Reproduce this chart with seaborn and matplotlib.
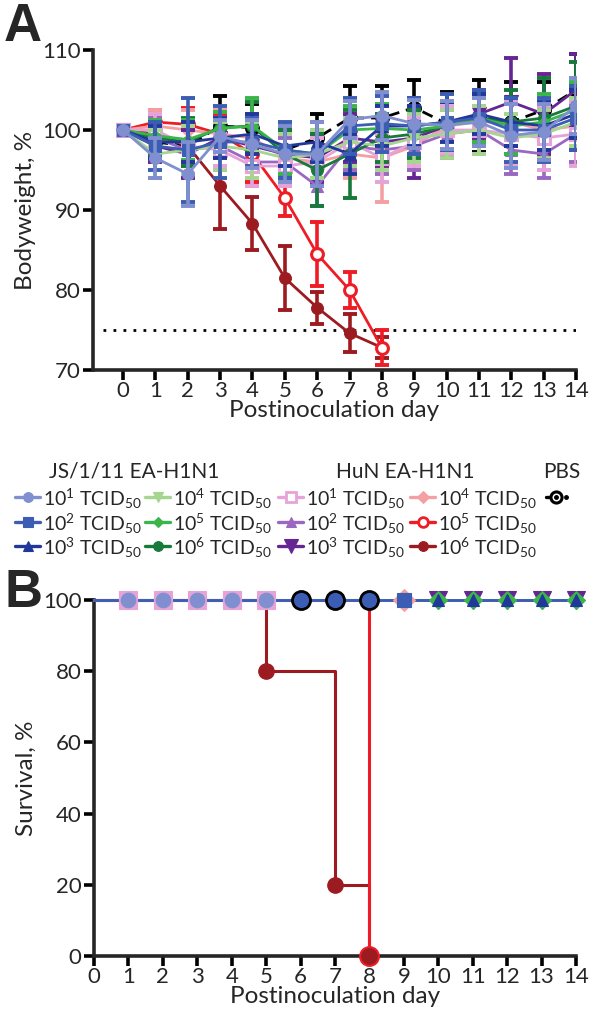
import matplotlib
matplotlib.use("Agg")
import matplotlib.pyplot as plt
import seaborn as sns
import numpy as np
import pandas as pd

sns.set_style("ticks")
plt.rcParams['font.family'] = ['Lato', 'DejaVu Sans']
plt.rcParams['mathtext.fontset'] = 'custom'
plt.rcParams['mathtext.rm'] = 'Lato'
plt.rcParams['mathtext.it'] = 'Lato:italic'
plt.rcParams['mathtext.bf'] = 'Lato:bold'
plt.rcParams['mathtext.default'] = 'regular'

# ---------------- data ----------------
days = list(range(15))
day_ticks = list(range(15))
weight_ticks = [70, 80, 90, 100, 110]
surv_ticks = [0, 20, 40, 60, 80, 100]
threshold = 75

series_names = ["JS 1e1", "JS 1e2", "JS 1e3", "JS 1e4", "JS 1e5", "JS 1e6",
                "HuN 1e1", "HuN 1e2", "HuN 1e3", "HuN 1e4", "HuN 1e5", "HuN 1e6", "PBS"]
legend_labels = [r"10$^{1}$ TCID$_{50}$", r"10$^{2}$ TCID$_{50}$", r"10$^{3}$ TCID$_{50}$",
                 r"10$^{4}$ TCID$_{50}$", r"10$^{5}$ TCID$_{50}$", r"10$^{6}$ TCID$_{50}$",
                 r"10$^{1}$ TCID$_{50}$", r"10$^{2}$ TCID$_{50}$", r"10$^{3}$ TCID$_{50}$",
                 r"10$^{4}$ TCID$_{50}$", r"10$^{5}$ TCID$_{50}$", r"10$^{6}$ TCID$_{50}$", ""]
group_headers = ["JS/1/11 EA-H1N1", "HuN EA-H1N1", "PBS"]

js1_mean = [100, 96.5, 94.5, 99.2, 98.2, 97.0, 97.0, 101.3, 101.8, 100.8, 100.6, 101.0, 99.3, 99.8, 103.0]
js1_sd   = [0, 2.5, 4.0, 2.0, 3.0, 3.5, 4.0, 2.3, 3.0, 3.0, 3.0, 3.0, 4.0, 3.5, 3.5]
js2_mean = [100, 98.0, 97.5, 98.5, 98.5, 97.5, 97.0, 100.5, 100.8, 100.5, 101.0, 101.5, 100.0, 100.0, 101.5]
js2_sd   = [0, 3.0, 6.5, 4.5, 3.0, 3.5, 4.0, 3.5, 3.5, 3.5, 3.5, 3.5, 4.0, 4.0, 4.0]
js3_mean = [100, 98.5, 98.5, 99.0, 99.5, 98.0, 98.5, 97.0, 100.5, 100.5, 101.0, 102.0, 101.0, 100.5, 102.0]
js3_sd   = [0, 2.0, 2.5, 2.5, 2.5, 2.5, 2.5, 2.5, 2.5, 2.5, 2.5, 2.5, 3.0, 3.0, 3.0]
js4_mean = [100, 97.0, 97.5, 98.0, 97.5, 96.5, 97.0, 98.5, 98.0, 99.0, 99.5, 100.0, 99.0, 99.5, 101.0]
js4_sd   = [0, 3.0, 3.0, 3.0, 3.5, 3.0, 3.0, 3.0, 3.0, 3.0, 3.0, 3.0, 3.0, 3.0, 3.0]
js5_mean = [100, 99.3, 98.8, 100.2, 100.5, 97.5, 97.0, 100.0, 100.2, 100.0, 100.5, 101.5, 100.5, 101.0, 102.5]
js5_sd   = [0, 2.0, 2.5, 2.0, 3.5, 3.0, 3.0, 3.0, 3.0, 3.0, 3.0, 3.0, 3.5, 3.5, 3.5]
js6_mean = [100, 99.0, 98.5, 100.3, 100.5, 97.0, 95.0, 97.0, 99.0, 99.5, 100.5, 101.5, 101.0, 101.5, 103.0]
js6_sd   = [0, 2.0, 3.0, 2.0, 3.0, 3.0, 4.5, 5.5, 3.0, 3.0, 3.0, 3.0, 4.0, 5.0, 5.5]
hun1_mean = [100, 100.0, 98.0, 97.5, 95.5, 95.5, 96.0, 98.5, 96.5, 98.5, 100.0, 100.0, 99.5, 99.0, 99.5]
hun1_sd   = [0, 2.0, 2.5, 2.0, 2.5, 2.5, 3.0, 3.0, 3.0, 3.0, 3.0, 3.0, 4.0, 4.0, 4.0]
hun2_mean = [100, 99.0, 97.5, 98.0, 96.0, 96.0, 93.0, 98.0, 97.5, 98.0, 99.5, 100.0, 97.5, 97.0, 99.5]
hun2_sd   = [0, 2.5, 3.0, 3.0, 3.0, 3.0, 2.5, 3.0, 3.0, 3.0, 3.0, 3.0, 3.0, 3.0, 3.5]
hun3_mean = [100, 98.0, 97.0, 99.0, 98.0, 97.0, 96.5, 99.0, 98.5, 99.0, 100.5, 102.0, 103.5, 102.0, 105.0]
hun3_sd   = [0, 2.0, 3.0, 2.0, 3.0, 3.0, 3.0, 3.0, 3.0, 5.0, 3.0, 3.0, 5.5, 5.0, 4.5]
hun4_mean = [100, 100.5, 100.0, 99.5, 99.0, 96.5, 96.0, 97.0, 96.5, 98.0, 100.5, 101.0, 101.0, 100.0, 100.5]
hun4_sd   = [0, 2.0, 2.5, 3.0, 3.0, 3.0, 3.0, 3.0, 5.5, 3.0, 3.0, 3.0, 3.0, 3.0, 3.0]
hun5_mean = [100, 101.0, 100.7, 99.5, 97.0, 91.5, 84.5, 80.0, 72.8]
hun5_sd   = [0, 1.5, 2.0, 2.5, 3.5, 2.3, 4.0, 2.2, 2.2]
hun6_mean = [100, 99.5, 98.0, 93.0, 88.3, 81.5, 77.8, 74.6, 72.8]
hun6_sd   = [0, 1.0, 2.0, 5.4, 3.3, 4.0, 2.0, 2.4, 1.3]
pbs_mean = [100, 98.5, 98.0, 100.5, 100.3, 97.5, 99.0, 101.5, 101.5, 102.8, 100.8, 101.8, 101.0, 102.5, 105.0]
pbs_sd   = [0, 2.0, 2.5, 3.7, 3.0, 3.0, 3.0, 4.0, 4.0, 3.5, 4.0, 4.5, 5.0, 3.5, 4.5]

means = [js1_mean, js2_mean, js3_mean, js4_mean, js5_mean, js6_mean,
         hun1_mean, hun2_mean, hun3_mean, hun4_mean, hun5_mean, hun6_mean, pbs_mean]
sds = [js1_sd, js2_sd, js3_sd, js4_sd, js5_sd, js6_sd,
       hun1_sd, hun2_sd, hun3_sd, hun4_sd, hun5_sd, hun6_sd, pbs_sd]

# survival (Kaplan-Meier steps)
surv_times = {
    "HuN 1e5": [0, 8],
    "HuN 1e6": [0, 5, 7, 8],
}
surv_vals = {
    "HuN 1e5": [100, 0],
    "HuN 1e6": [100, 80, 20, 0],
}
surv_full_times = [0, 14]
surv_full_vals = [100, 100]
# days where each group's symbol shows on the survival curve
surv_marker_days = {
    "HuN 1e1": [1, 2, 3, 4, 5],
    "JS 1e1": [1, 2, 3, 4, 5],
    "PBS": [6, 7, 8],
    "HuN 1e4": [9],
    "JS 1e2": [9],
    "HuN 1e3": [10, 11, 12, 13, 14],
    "JS 1e5": [10, 11, 12, 13, 14],
    "JS 1e3": [10, 11, 12, 13, 14],
}
surv_marker_vals = {
    "HuN 1e6": ([5, 7, 8], [80, 20, 0]),
    "HuN 1e5": ([8], [0]),
}

# ---------------- styles ----------------
colors = {"JS 1e1": "#7f8fcf", "JS 1e2": "#3b5db3", "JS 1e3": "#22379b",
          "JS 1e4": "#a5d58e", "JS 1e5": "#3bb54a", "JS 1e6": "#17793a",
          "HuN 1e1": "#e5a3d8", "HuN 1e2": "#9a68c0", "HuN 1e3": "#652693",
          "HuN 1e4": "#f4a0a2", "HuN 1e5": "#ee1c25", "HuN 1e6": "#9c1b20",
          "PBS": "#000000"}
markers = {"JS 1e1": "o", "JS 1e2": "s", "JS 1e3": "^", "JS 1e4": "v", "JS 1e5": "D",
           "JS 1e6": "o", "HuN 1e1": "s", "HuN 1e2": "^", "HuN 1e3": "v", "HuN 1e4": "D",
           "HuN 1e5": "o", "HuN 1e6": "o", "PBS": "o"}
msizes = {"JS 1e5": 6, "HuN 1e4": 7, "HuN 1e3": 9.5}
open_markers = {"HuN 1e1", "HuN 1e5", "PBS"}

W, H = 600, 1023
fig = plt.figure(figsize=(W / 100, H / 100), dpi=100)

def px_axes(x0, y0, x1, y1):
    return fig.add_axes([x0 / W, 1 - y1 / H, (x1 - x0) / W, (y1 - y0) / H])

axA = px_axes(93, 50, 576, 370)
axB = px_axes(94, 600, 576, 956)

# ---------------- panel A ----------------
draw_order = ["PBS", "HuN 1e6", "HuN 1e5", "HuN 1e4", "HuN 1e3", "HuN 1e2", "HuN 1e1",
              "JS 1e6", "JS 1e5", "JS 1e4", "JS 1e3", "JS 1e2", "JS 1e1"]
for z, name in enumerate(draw_order):
    i = series_names.index(name)
    m = means[i]
    s = sds[i]
    d = days[:len(m)]
    c = colors[name]
    axA.errorbar(d, m, yerr=s, fmt='none', ecolor=c, elinewidth=2.6,
                 capsize=5, capthick=2.8, zorder=2 + z * 0.1)
    df = pd.DataFrame({"day": d, "w": m})
    sns.lineplot(data=df, x="day", y="w", ax=axA, color=c,
                 linewidth=2.0, linestyle=(0, (4, 2.5)) if name == "PBS" else "-",
                 marker=markers[name], markersize=msizes.get(name, 8.5),
                 markerfacecolor="white" if name in open_markers else c,
                 markeredgecolor=c, markeredgewidth=2.2 if name in open_markers else 0.8,
                 zorder=2.05 + z * 0.1)
    if name == "PBS":
        axA.plot(d, m, linestyle="none", marker="o", markersize=2.5, color="black",
                 zorder=2.06 + z * 0.1)

axA.axhline(threshold, xmin=0.02, xmax=1.0, color="black", linestyle=(0, (1, 2.6)),
            linewidth=2.0, zorder=1)
axA.set_xlim(-0.93, 14)
axA.set_ylim(70, 110)
axA.set_xticks(day_ticks)
axA.set_yticks(weight_ticks)
axA.set_xlabel("Postinoculation day", fontsize=17.5, labelpad=-1)
axA.set_ylabel("Bodyweight, %", fontsize=17.5, labelpad=4)

# ---------------- panel B ----------------
for name in ["HuN 1e6", "HuN 1e5"]:
    df = pd.DataFrame({"t": surv_times[name], "s": surv_vals[name]})
    sns.lineplot(data=df, x="t", y="s", ax=axB, color=colors[name], linewidth=2.2,
                 drawstyle="steps-post", clip_on=False, zorder=2)
full_order = ["PBS", "HuN 1e4", "HuN 1e3", "HuN 1e2", "HuN 1e1",
              "JS 1e6", "JS 1e5", "JS 1e4", "JS 1e3", "JS 1e1", "JS 1e2"]
for name in full_order:
    df = pd.DataFrame({"t": surv_full_times, "s": surv_full_vals})
    sns.lineplot(data=df, x="t", y="s", ax=axB, color=colors[name] if name != "PBS" else "black",
                 linewidth=2.0, linestyle=(0, (4, 2.5)) if name == "PBS" else "-",
                 drawstyle="steps-post", clip_on=False, zorder=3)

for name, dd in surv_marker_days.items():
    c = colors[name]
    if name == "PBS":
        axB.plot(dd, [100] * len(dd), linestyle="none", marker="o", markersize=13,
                 markerfacecolor="#3b5db3", markeredgecolor="black", markeredgewidth=2.0,
                 clip_on=False, zorder=5)
        continue
    ms = {"HuN 1e1": 13, "JS 1e1": 10.5, "HuN 1e4": 11, "JS 1e2": 10,
          "HuN 1e3": 13, "JS 1e5": 9.5, "JS 1e3": 9}[name]
    axB.plot(dd, [100] * len(dd), linestyle="none", marker=markers[name], markersize=ms,
             markerfacecolor=c, markeredgecolor=c, markeredgewidth=0.8,
             clip_on=False, zorder=5)
for name, (dd, vv) in surv_marker_vals.items():
    c = colors[name]
    ms = 14 if name == "HuN 1e5" else 11
    axB.plot(dd, vv, linestyle="none", marker="o", markersize=ms, markerfacecolor=c,
             markeredgecolor=c, clip_on=False, zorder=6 if name == "HuN 1e6" else 5)
axB.plot([8], [0], linestyle="none", marker="o", markersize=4, color=colors["HuN 1e6"],
         clip_on=False, zorder=7)

axB.set_xlim(0, 14)
axB.set_ylim(0, 100)
axB.set_xticks(day_ticks)
axB.set_yticks(surv_ticks)
axB.set_xlabel("Postinoculation day", fontsize=17.5, labelpad=-1)
axB.set_ylabel("Survival, %", fontsize=17.5, labelpad=4)

for ax in (axA, axB):
    sns.despine(ax=ax)
    for sp in ("left", "bottom"):
        ax.spines[sp].set_linewidth(2.6)
    ax.tick_params(axis="both", width=2.6, length=7, labelsize=16, pad=1, color="black")
    ax.tick_params(axis="y", pad=2)

fig.text(4 / W, 1 - 2 / H, "A", fontsize=38, fontweight="bold", family="Liberation Sans",
         va="top", ha="left")
fig.text(4 / W, 1 - 568 / H, "B", fontsize=38, fontweight="bold", family="Liberation Sans",
         va="top", ha="left")

# ---------------- legend ----------------
lax = fig.add_axes([0, 0, 1, 1], zorder=10)
lax.set_xlim(0, W)
lax.set_ylim(H, 0)
lax.axis("off")
lax.patch.set_alpha(0)

header_x = [134, 405, 562]
for hx, ht in zip(header_x, group_headers):
    lax.text(hx, 472, ht, fontsize=15, ha="center", va="center")

col_x = [15, 145, 278, 410]
row_y = [497, 522, 546]
for i, name in enumerate(series_names[:12]):
    col = i // 3
    row = i % 3
    x0 = col_x[col]
    y = row_y[row]
    c = colors[name]
    lax.plot([x0, x0 + 25], [y, y], color=c, linewidth=2.4)
    lax.plot([x0 + 12.5], [y], marker=markers[name],
             markersize={"JS 1e5": 5, "HuN 1e4": 6.5, "HuN 1e3": 9.5}.get(name, 7),
             markerfacecolor="white" if name in open_markers else c,
             markeredgecolor=c, markeredgewidth=2.0 if name in open_markers else 0.8)
    lax.text(x0 + 28, y + 2, legend_labels[i], fontsize=14, ha="left", va="center")

# PBS key
lax.plot([546, 552], [497, 497], color="black", linewidth=2.4)
lax.plot([556], [497], marker="o", markersize=8, markerfacecolor="white",
         markeredgecolor="black", markeredgewidth=2.2)
lax.plot([556], [497], marker="o", markersize=2.5, color="black")
lax.plot([566], [497], marker="o", markersize=2.5, color="black")

fig.savefig("out.png", dpi=100)
